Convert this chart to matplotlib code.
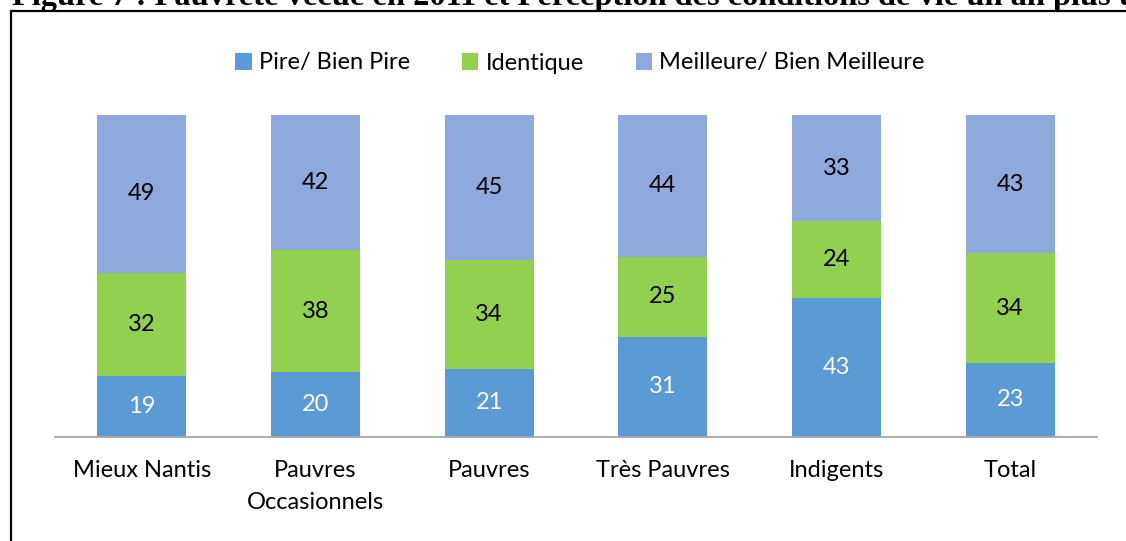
import matplotlib.pyplot as plt
from matplotlib.patches import Rectangle
import numpy as np

# donnees (en %)
categories = ['Mieux Nantis', 'Pauvres\nOccasionnels', 'Pauvres', 'Très Pauvres', 'Indigents', 'Total']
pire = [19, 20, 21, 31, 43, 23]
identique = [32, 38, 34, 25, 24, 34]
meilleure = [49, 42, 45, 44, 33, 43]
series_names = ['Pire/ Bien Pire', 'Identique', 'Meilleure/ Bien Meilleure']

couleurs = ['#5B9BD5', '#92D050', '#8EA9DB']
couleurs_texte = ['white', 'black', 'black']

plt.rcParams['font.family'] = ['Lato', 'DejaVu Sans']

fig = plt.figure(figsize=(11.26, 5.41), dpi=100)
ax = fig.add_axes([55 / 1126, 1 - 436.7 / 541, (1097 - 55) / 1126, (436.7 - 115) / 541])

x = np.arange(len(categories))
bas = np.zeros(len(categories))
for valeurs, nom, col, col_txt in zip([pire, identique, meilleure], series_names, couleurs, couleurs_texte):
    barres = ax.bar(x, valeurs, 0.514, bottom=bas, color=col, label=nom, edgecolor='none')
    ax.bar_label(barres, labels=[str(v) for v in valeurs], label_type='center',
                 color=col_txt, fontsize=17)
    bas += np.array(valeurs)

ax.set_xlim(-0.5, len(categories) - 0.5)
ax.set_ylim(0, 100)
ax.set_xticks(x)
ax.set_xticklabels(categories, fontsize=17, linespacing=1.6)
ax.tick_params(axis='x', length=0, pad=17)
ax.set_yticks([])
for s in ['top', 'right', 'left']:
    ax.spines[s].set_visible(False)
ax.spines['bottom'].set_color('#A6A6A6')
ax.spines['bottom'].set_linewidth(1.3)

fig.legend(loc='center', bbox_to_anchor=(0.515, 1 - 63 / 541), ncol=3, frameon=False,
           fontsize=17, handlelength=0.7, handleheight=0.7, handletextpad=0.3,
           columnspacing=2.2)

# cadre de la figure (coupe a droite et en bas)
fig.patches.append(Rectangle((11 / 1126, -0.1), 1.2, 1 - 11 / 541 + 0.1, transform=fig.transFigure,
                             fill=False, edgecolor='black', linewidth=1.6, clip_on=False))

# titre du document, coupe en haut
fig.text(12 / 1126, 1 - 5 / 541, 'Figure 7 : Pauvreté vécue en 2011 et Perception des conditions de vie un an plus tôt',
         family='Liberation Serif', fontweight='bold', fontsize=23.3, va='baseline', ha='left')

fig.savefig('out.png', dpi=100)
